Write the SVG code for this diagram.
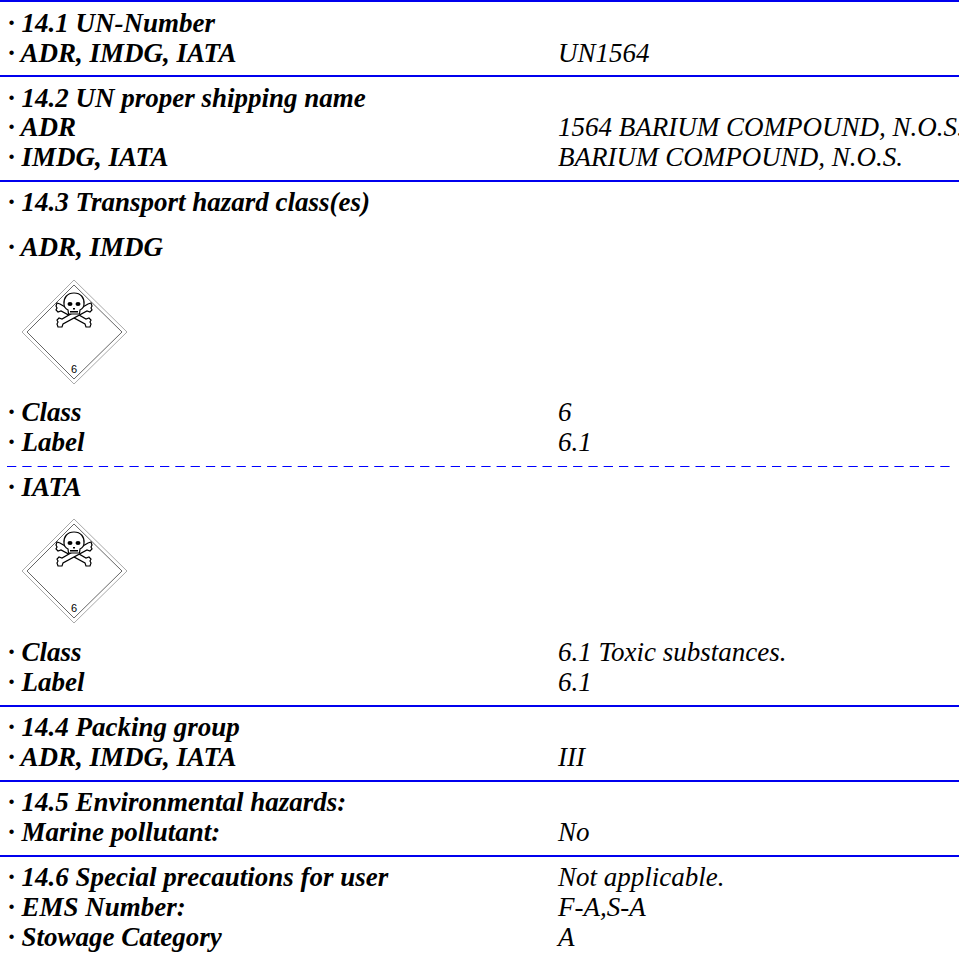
<svg xmlns="http://www.w3.org/2000/svg" width="959" height="954" viewBox="0 0 959 954">
<style>
text{font-family:"Liberation Serif","Times New Roman",serif;font-size:27px;font-style:italic;fill:#000}
.b{font-weight:bold}
.sep{stroke:#0000ee;stroke-width:2;fill:none}
.dash{stroke:#0000ff;stroke-width:1;stroke-dasharray:9.3 6;fill:none}
.o{fill:none;stroke:#aaa;stroke-width:1}
.i{fill:none;stroke:#666;stroke-width:1}
.k{fill:#fff;stroke:#000;stroke-width:1.2}
</style>
<defs>
<g id="placard">
<path class="o" d="M74 0L127 52L74 104L22 52Z"/>
<path class="i" d="M74 5L122 52L74 99L27 52Z"/>
<path class="k" d="M60 24l-3-1l-1 3l1 2l-1 2l2 2l3-1l24 13l1 3l4 0l1-3l-1-2l1-2l-2-2l-3 1z"/>
<path class="k" d="M88 24l3-1l1 3l-1 2l1 2l-2 2l-3-1L63 44l-1 3l-4 0l-1-3l1-2l-1-2l2-2l3 1z"/>
<path class="k" d="M74 13c-7 0-10.500 5-10 11c0 3 2 5 4 6l0.500 4h11l0.500-4c2-1 4-3 4-6c0.500-6-3-11-10-11z"/>
<ellipse cx="70" cy="24" rx="2.500" ry="2"/><ellipse cx="78" cy="24" rx="2.500" ry="2"/>
<path d="M73 28h2v1.500h-2zM70 31h8v1.500h-8z"/>
<text x="74" y="93" text-anchor="middle" style="font-family:'Liberation Sans',sans-serif;font-style:normal;font-size:11px">6</text>
</g>
</defs>
<g id="connectors">
<path class="sep" d="M0 1H959M0 76H959M0 181H959M0 706H959M0 781H959M0 856H959"/>
<path class="dash" d="M7 466.500H950"/>
</g>
<g id="s141">
<text class="b" x="8" y="32">· 14.1 UN-Number</text>
<text class="b" x="8" y="62">· ADR, IMDG, IATA</text>
<text x="558" y="62">UN1564</text>
</g>
<g id="s142">
<text class="b" x="8" y="107">· 14.2 UN proper shipping name</text>
<text class="b" x="8" y="136">· ADR</text>
<text x="558" y="136">1564 BARIUM COMPOUND, N.O.S.</text>
<text class="b" x="8" y="166">· IMDG, IATA</text>
<text x="558" y="166">BARIUM COMPOUND, N.O.S.</text>
</g>
<g id="s143">
<text class="b" x="8" y="211">· 14.3 Transport hazard class(es)</text>
<text class="b" x="8" y="256">· ADR, IMDG</text>
<use href="#placard" y="280"/>
<text class="b" x="8" y="421">· Class</text>
<text x="558" y="421">6</text>
<text class="b" x="8" y="451">· Label</text>
<text x="558" y="451">6.1</text>
<text class="b" x="8" y="496">· IATA</text>
<use href="#placard" y="519"/>
<text class="b" x="8" y="661">· Class</text>
<text x="558" y="661">6.1 Toxic substances.</text>
<text class="b" x="8" y="691">· Label</text>
<text x="558" y="691">6.1</text>
</g>
<g id="s144">
<text class="b" x="8" y="736">· 14.4 Packing group</text>
<text class="b" x="8" y="766">· ADR, IMDG, IATA</text>
<text x="558" y="766">III</text>
</g>
<g id="s145">
<text class="b" x="8" y="811">· 14.5 Environmental hazards:</text>
<text class="b" x="8" y="841">· Marine pollutant:</text>
<text x="558" y="841">No</text>
</g>
<g id="s146">
<text class="b" x="8" y="886">· 14.6 Special precautions for user</text>
<text x="558" y="886">Not applicable.</text>
<text class="b" x="8" y="916">· EMS Number:</text>
<text x="558" y="916">F-A,S-A</text>
<text class="b" x="8" y="946">· Stowage Category</text>
<text x="558" y="946">A</text>
</g>
</svg>
